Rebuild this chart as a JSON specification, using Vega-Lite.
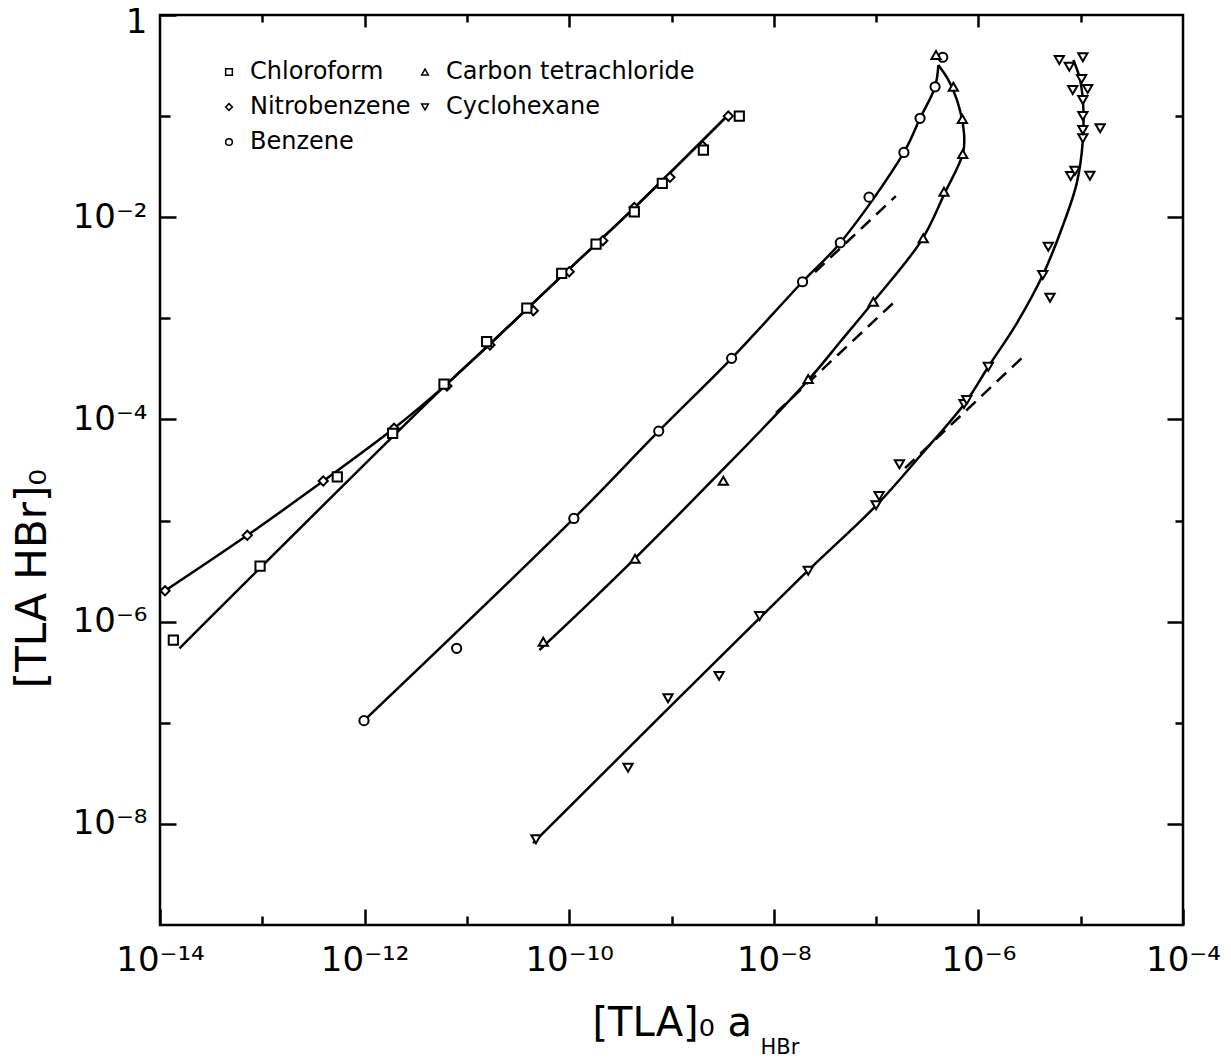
{
  "$schema": "https://vega.github.io/schema/vega-lite/v6.json",
  "width": 1023,
  "height": 910,
  "autosize": {"type": "none"},
  "padding": {"left": 160, "top": 15, "right": 48, "bottom": 135},
  "background": "white",
  "config": {
    "view": {"stroke": "black", "strokeWidth": 2.5},
    "axis": {"grid": false, "domain": false, "tickColor": "black", "tickWidth": 2.5, "labelColor": "black", "titleColor": "black", "labelFlush": false, "labelOverlap": false, "labelBound": false}
  },
  "datasets": {
    "pts": [
      {"series": "Nitrobenzene", "x": 1.12e-14, "y": 2.02e-6},
      {"series": "Nitrobenzene", "x": 7.13e-14, "y": 7.14e-6},
      {"series": "Nitrobenzene", "x": 3.94e-13, "y": 2.46e-5},
      {"series": "Nitrobenzene", "x": 1.94e-12, "y": 8.17e-5},
      {"series": "Nitrobenzene", "x": 6.38e-12, "y": 2.14e-4},
      {"series": "Nitrobenzene", "x": 1.68e-11, "y": 5.45e-4},
      {"series": "Nitrobenzene", "x": 4.46e-11, "y": 1.19e-3},
      {"series": "Nitrobenzene", "x": 1.00e-10, "y": 2.89e-3},
      {"series": "Nitrobenzene", "x": 2.13e-10, "y": 5.86e-3},
      {"series": "Nitrobenzene", "x": 4.33e-10, "y": 1.25e-2},
      {"series": "Nitrobenzene", "x": 9.66e-10, "y": 2.48e-2},
      {"series": "Nitrobenzene", "x": 2.02e-9, "y": 5.06e-2},
      {"series": "Nitrobenzene", "x": 3.59e-9, "y": 0.100},
      {"series": "Chloroform", "x": 1.35e-14, "y": 6.58e-7},
      {"series": "Chloroform", "x": 9.51e-14, "y": 3.55e-6},
      {"series": "Chloroform", "x": 5.41e-13, "y": 2.71e-5},
      {"series": "Chloroform", "x": 1.88e-12, "y": 7.29e-5},
      {"series": "Chloroform", "x": 5.97e-12, "y": 2.24e-4},
      {"series": "Chloroform", "x": 1.56e-11, "y": 5.87e-4},
      {"series": "Chloroform", "x": 3.85e-11, "y": 1.26e-3},
      {"series": "Chloroform", "x": 8.45e-11, "y": 2.79e-3},
      {"series": "Chloroform", "x": 1.83e-10, "y": 5.43e-3},
      {"series": "Chloroform", "x": 4.33e-10, "y": 1.13e-2},
      {"series": "Chloroform", "x": 8.13e-10, "y": 2.16e-2},
      {"series": "Chloroform", "x": 2.05e-9, "y": 4.62e-2},
      {"series": "Chloroform", "x": 4.60e-9, "y": 0.100},
      {"series": "Benzene", "x": 9.86e-13, "y": 1.05e-7},
      {"series": "Benzene", "x": 7.94e-12, "y": 5.45e-7},
      {"series": "Benzene", "x": 1.11e-10, "y": 1.05e-5},
      {"series": "Benzene", "x": 7.50e-10, "y": 7.67e-5},
      {"series": "Benzene", "x": 3.87e-9, "y": 4.02e-4},
      {"series": "Benzene", "x": 1.91e-8, "y": 2.30e-3},
      {"series": "Benzene", "x": 4.47e-8, "y": 5.60e-3},
      {"series": "Benzene", "x": 8.53e-8, "y": 1.58e-2},
      {"series": "Benzene", "x": 1.87e-7, "y": 4.37e-2},
      {"series": "Benzene", "x": 2.69e-7, "y": 9.51e-2},
      {"series": "Benzene", "x": 3.77e-7, "y": 0.195},
      {"series": "Benzene", "x": 4.48e-7, "y": 0.382},
      {"series": "Carbon tetrachloride", "x": 5.58e-11, "y": 6.32e-7},
      {"series": "Carbon tetrachloride", "x": 4.40e-10, "y": 4.18e-6},
      {"series": "Carbon tetrachloride", "x": 3.21e-9, "y": 2.48e-5},
      {"series": "Carbon tetrachloride", "x": 2.17e-8, "y": 2.51e-4},
      {"series": "Carbon tetrachloride", "x": 9.40e-8, "y": 1.46e-3},
      {"series": "Carbon tetrachloride", "x": 2.89e-7, "y": 6.18e-3},
      {"series": "Carbon tetrachloride", "x": 4.61e-7, "y": 1.79e-2},
      {"series": "Carbon tetrachloride", "x": 7.03e-7, "y": 4.22e-2},
      {"series": "Carbon tetrachloride", "x": 6.97e-7, "y": 9.35e-2},
      {"series": "Carbon tetrachloride", "x": 5.69e-7, "y": 0.195},
      {"series": "Carbon tetrachloride", "x": 3.85e-7, "y": 0.402},
      {"series": "Cyclohexane", "x": 4.73e-11, "y": 7.03e-9},
      {"series": "Cyclohexane", "x": 3.76e-10, "y": 3.59e-8},
      {"series": "Cyclohexane", "x": 9.25e-10, "y": 1.75e-7},
      {"series": "Cyclohexane", "x": 2.92e-9, "y": 2.91e-7},
      {"series": "Cyclohexane", "x": 7.28e-9, "y": 1.14e-6},
      {"series": "Cyclohexane", "x": 2.17e-8, "y": 3.18e-6},
      {"series": "Cyclohexane", "x": 1.00e-7, "y": 1.42e-5},
      {"series": "Cyclohexane", "x": 1.07e-7, "y": 1.75e-5},
      {"series": "Cyclohexane", "x": 1.69e-7, "y": 3.60e-5},
      {"series": "Cyclohexane", "x": 7.23e-7, "y": 1.42e-4},
      {"series": "Cyclohexane", "x": 7.69e-7, "y": 1.56e-4},
      {"series": "Cyclohexane", "x": 1.25e-6, "y": 3.32e-4},
      {"series": "Cyclohexane", "x": 5.01e-6, "y": 1.60e-3},
      {"series": "Cyclohexane", "x": 4.26e-6, "y": 2.68e-3},
      {"series": "Cyclohexane", "x": 4.82e-6, "y": 5.11e-3},
      {"series": "Cyclohexane", "x": 7.98e-6, "y": 2.56e-2},
      {"series": "Cyclohexane", "x": 8.79e-6, "y": 2.88e-2},
      {"series": "Cyclohexane", "x": 1.23e-5, "y": 2.57e-2},
      {"series": "Cyclohexane", "x": 1.55e-5, "y": 7.57e-2},
      {"series": "Cyclohexane", "x": 1.05e-5, "y": 6.03e-2},
      {"series": "Cyclohexane", "x": 1.05e-5, "y": 7.29e-2},
      {"series": "Cyclohexane", "x": 1.05e-5, "y": 0.100},
      {"series": "Cyclohexane", "x": 1.05e-5, "y": 0.144},
      {"series": "Cyclohexane", "x": 8.36e-6, "y": 0.181},
      {"series": "Cyclohexane", "x": 1.17e-5, "y": 0.185},
      {"series": "Cyclohexane", "x": 1.02e-5, "y": 0.233},
      {"series": "Cyclohexane", "x": 6.18e-6, "y": 0.359},
      {"series": "Cyclohexane", "x": 7.74e-6, "y": 0.308},
      {"series": "Cyclohexane", "x": 1.05e-5, "y": 0.382}
    ],
    "curves": [
      {"series": "Chloroform", "ord": 1, "x": 1.55e-14, "y": 5.45e-7},
      {"series": "Chloroform", "ord": 2, "x": 6.11e-12, "y": 2.16e-4},
      {"series": "Chloroform", "ord": 3, "x": 1.68e-11, "y": 5.57e-4},
      {"series": "Chloroform", "ord": 4, "x": 9.10e-11, "y": 2.81e-3},
      {"series": "Chloroform", "ord": 5, "x": 4.40e-10, "y": 1.26e-2},
      {"series": "Chloroform", "ord": 6, "x": 3.73e-9, "y": 0.107},
      {"series": "Nitrobenzene", "ord": 1, "x": 1.12e-14, "y": 2.02e-6},
      {"series": "Nitrobenzene", "ord": 2, "x": 7.13e-14, "y": 7.14e-6},
      {"series": "Nitrobenzene", "ord": 3, "x": 3.94e-13, "y": 2.46e-5},
      {"series": "Nitrobenzene", "ord": 4, "x": 1.94e-12, "y": 8.17e-5},
      {"series": "Nitrobenzene", "ord": 5, "x": 6.11e-12, "y": 2.16e-4},
      {"series": "Nitrobenzene", "ord": 6, "x": 1.68e-11, "y": 5.57e-4},
      {"series": "Nitrobenzene", "ord": 7, "x": 9.10e-11, "y": 2.81e-3},
      {"series": "Nitrobenzene", "ord": 8, "x": 4.40e-10, "y": 1.26e-2},
      {"series": "Nitrobenzene", "ord": 9, "x": 3.73e-9, "y": 0.107},
      {"series": "Benzene", "ord": 1, "x": 9.86e-13, "y": 1.05e-7},
      {"series": "Benzene", "ord": 2, "x": 1.11e-10, "y": 1.05e-5},
      {"series": "Benzene", "ord": 3, "x": 7.50e-10, "y": 7.67e-5},
      {"series": "Benzene", "ord": 4, "x": 3.87e-9, "y": 4.02e-4},
      {"series": "Benzene", "ord": 5, "x": 1.91e-8, "y": 2.30e-3},
      {"series": "Benzene", "ord": 6, "x": 4.47e-8, "y": 5.60e-3},
      {"series": "Benzene", "ord": 7, "x": 1.87e-7, "y": 4.37e-2},
      {"series": "Benzene", "ord": 8, "x": 2.69e-7, "y": 9.51e-2},
      {"series": "Benzene", "ord": 9, "x": 3.77e-7, "y": 0.195},
      {"series": "Benzene", "ord": 10, "x": 4.06e-7, "y": 0.320},
      {"series": "Carbon tetrachloride", "ord": 1, "x": 5.11e-11, "y": 5.24e-7},
      {"series": "Carbon tetrachloride", "ord": 2, "x": 4.40e-10, "y": 4.23e-6},
      {"series": "Carbon tetrachloride", "ord": 3, "x": 2.17e-8, "y": 2.45e-4},
      {"series": "Carbon tetrachloride", "ord": 4, "x": 4.44e-8, "y": 5.83e-4},
      {"series": "Carbon tetrachloride", "ord": 5, "x": 9.40e-8, "y": 1.46e-3},
      {"series": "Carbon tetrachloride", "ord": 6, "x": 2.79e-7, "y": 5.94e-3},
      {"series": "Carbon tetrachloride", "ord": 7, "x": 4.71e-7, "y": 1.75e-2},
      {"series": "Carbon tetrachloride", "ord": 8, "x": 7.08e-7, "y": 4.32e-2},
      {"series": "Carbon tetrachloride", "ord": 9, "x": 7.23e-7, "y": 6.81e-2},
      {"series": "Carbon tetrachloride", "ord": 10, "x": 6.18e-7, "y": 0.144},
      {"series": "Carbon tetrachloride", "ord": 11, "x": 5.08e-7, "y": 0.228},
      {"series": "Carbon tetrachloride", "ord": 12, "x": 4.06e-7, "y": 0.320},
      {"series": "Cyclohexane", "ord": 1, "x": 4.43e-11, "y": 6.46e-9},
      {"series": "Cyclohexane", "ord": 2, "x": 1.80e-8, "y": 2.68e-6},
      {"series": "Cyclohexane", "ord": 3, "x": 1.01e-7, "y": 1.42e-5},
      {"series": "Cyclohexane", "ord": 4, "x": 2.69e-7, "y": 4.35e-5},
      {"series": "Cyclohexane", "ord": 5, "x": 7.57e-7, "y": 1.50e-4},
      {"series": "Cyclohexane", "ord": 6, "x": 1.25e-6, "y": 3.32e-4},
      {"series": "Cyclohexane", "ord": 7, "x": 2.37e-6, "y": 8.93e-4},
      {"series": "Cyclohexane", "ord": 8, "x": 4.26e-6, "y": 2.68e-3},
      {"series": "Cyclohexane", "ord": 9, "x": 6.56e-6, "y": 7.82e-3},
      {"series": "Cyclohexane", "ord": 10, "x": 9.14e-6, "y": 2.16e-2},
      {"series": "Cyclohexane", "ord": 11, "x": 1.05e-5, "y": 5.81e-2},
      {"series": "Cyclohexane", "ord": 12, "x": 1.05e-5, "y": 0.144},
      {"series": "Cyclohexane", "ord": 13, "x": 9.70e-6, "y": 0.245},
      {"series": "Cyclohexane", "ord": 14, "x": 8.47e-6, "y": 0.359}
    ],
    "dashed": [
      {"series": "Benzene", "ord": 1, "x": 2.53e-8, "y": 2.87e-3},
      {"series": "Benzene", "ord": 2, "x": 1.56e-7, "y": 1.62e-2},
      {"series": "Carbon tetrachloride", "ord": 1, "x": 1.05e-8, "y": 1.16e-4},
      {"series": "Carbon tetrachloride", "ord": 2, "x": 1.56e-7, "y": 1.50e-3},
      {"series": "Cyclohexane", "ord": 1, "x": 1.92e-7, "y": 3.30e-5},
      {"series": "Cyclohexane", "ord": 2, "x": 2.79e-6, "y": 4.24e-4}
    ]
  },
  "layer": [
    {
      "data": {"name": "dashed"},
      "mark": {"type": "line", "color": "black", "strokeWidth": 2.5, "strokeDash": [13, 8]},
      "encoding": {
        "x": {"field": "x", "type": "quantitative", "scale": {"type": "log", "domain": [1e-14, 1e-4], "nice": false},
          "axis": {"orient": "bottom", "domain": false, "ticks": false, "labels": false, "grid": false, "title": "HBr", "titleFont": "DejaVu Sans", "titleFontSize": 21, "titleFontWeight": "normal", "titleX": 600, "titleY": 128, "titleAlign": "left", "titleBaseline": "alphabetic"}},
        "y": {"field": "y", "type": "quantitative", "scale": {"type": "log", "domain": [1e-9, 1], "nice": false}, "axis": null},
        "detail": {"field": "series"},
        "order": {"field": "ord"}
      }
    },
    {
      "data": {"name": "curves"},
      "mark": {"type": "line", "color": "black", "strokeWidth": 2.5, "interpolate": "catmull-rom"},
      "encoding": {
        "x": {"field": "x", "type": "quantitative", "scale": {"type": "log", "domain": [1e-14, 1e-4], "nice": false},
          "axis": {"orient": "top", "values": [1e-13, 1e-12, 1e-11, 1e-10, 1e-9, 1e-8, 1e-7, 1e-6, 1e-5], "labels": false, "title": null, "domain": false,
            "tickSize": {"condition": {"test": "abs(round(log(datum.value)/LN10)) % 2 == 0", "value": -12}, "value": -7}}},
        "y": {"field": "y", "type": "quantitative", "scale": {"type": "log", "domain": [1e-9, 1], "nice": false},
          "axis": {"orient": "right", "values": [1e-8, 1e-7, 1e-6, 1e-5, 1e-4, 1e-3, 1e-2, 1e-1], "labels": false, "title": null, "domain": false,
            "tickSize": {"condition": {"test": "abs(round(log(datum.value)/LN10)) % 2 == 0", "value": -16}, "value": -8}}},
        "detail": {"field": "series"},
        "order": {"field": "ord"}
      }
    },
    {
      "data": {"name": "pts"},
      "mark": {"type": "point", "shape": "circle", "filled": false, "fill": "white", "stroke": "black", "strokeWidth": 2, "size": 85, "opacity": 1},
      "encoding": {
        "x": {"field": "x", "type": "quantitative", "scale": {"type": "log", "domain": [1e-14, 1e-4], "nice": false},
          "axis": {"orient": "bottom", "values": [1e-14, 1e-13, 1e-12, 1e-11, 1e-10, 1e-9, 1e-8, 1e-7, 1e-6, 1e-5, 1e-4],
            "labelExpr": "datum.value == 1e-14 ? '10⁻¹⁴' : datum.value == 1e-12 ? '10⁻¹²' : datum.value == 1e-10 ? '10⁻¹⁰' : datum.value == 1e-8 ? '10⁻⁸' : datum.value == 1e-6 ? '10⁻⁶' : datum.value == 1e-4 ? '10⁻⁴' : ''",
            "tickSize": {"condition": {"test": "abs(round(log(datum.value)/LN10)) % 2 == 0", "value": -16}, "value": -9},
            "labelFont": "DejaVu Sans", "labelFontSize": 34, "labelBaseline": "alphabetic", "labelAlign": "center", "labelPadding": 61,
            "title": "[TLA]₀ a", "titleFont": "DejaVu Sans", "titleFontSize": 40, "titleFontWeight": "normal", "titleX": 432, "titleY": 110, "titleAlign": "left", "titleBaseline": "alphabetic"}},
        "y": {"field": "y", "type": "quantitative", "scale": {"type": "log", "domain": [1e-9, 1], "nice": false},
          "axis": {"orient": "left", "values": [1e-8, 1e-7, 1e-6, 1e-5, 1e-4, 1e-3, 1e-2, 1e-1, 1],
            "labelExpr": "datum.value == 1 ? '1' : datum.value == 1e-2 ? '10⁻²' : datum.value == 1e-4 ? '10⁻⁴' : datum.value == 1e-6 ? '10⁻⁶' : datum.value == 1e-8 ? '10⁻⁸' : ''",
            "tickSize": {"condition": {"test": "abs(round(log(datum.value)/LN10)) % 2 == 0", "value": -16}, "value": -10},
            "labelOffset": {"condition": {"test": "datum.value == 1", "value": 7}, "value": 0},
            "labelFont": "DejaVu Sans", "labelFontSize": 34, "labelAlign": "right", "labelBaseline": "middle", "labelPadding": 29,
            "title": "[TLA HBr]₀", "titleFont": "DejaVu Sans", "titleFontSize": 42, "titleFontWeight": "normal", "titleAngle": 270, "titleX": -115, "titleY": 563, "titleAlign": "center", "titleBaseline": "alphabetic"}},
        "shape": {"field": "series", "type": "nominal",
          "scale": {"domain": ["Chloroform", "Nitrobenzene", "Benzene", "Carbon tetrachloride", "Cyclohexane"], "range": ["square", "diamond", "circle", "triangle-up", "triangle-down"]},
          "legend": {"orient": "none", "legendX": 57, "legendY": 45, "columns": 2, "title": null, "padding": 0,
            "labelFont": "DejaVu Sans", "labelFontSize": 24, "labelColor": "black", "labelLimit": 500,
            "symbolSize": 45, "symbolStrokeWidth": 1.5, "symbolOpacity": 1,
            "rowPadding": 11, "columnPadding": 2, "labelOffset": 9}}
      }
    }
  ],
  "resolve": {"axis": {"x": "independent", "y": "independent"}}
}
